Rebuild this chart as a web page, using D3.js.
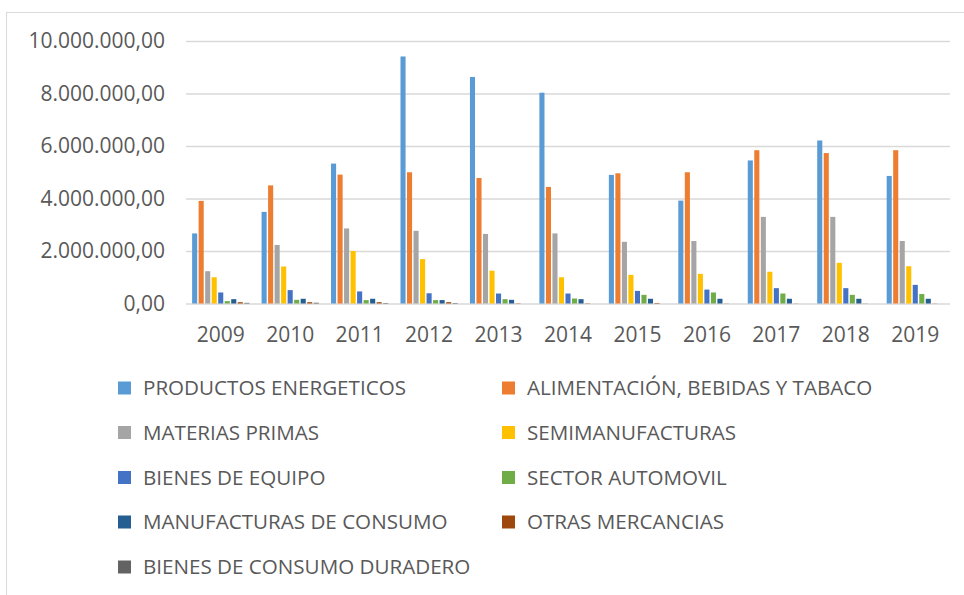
<!DOCTYPE html>
<html>
<head>
<meta charset="utf-8">
<script src="https://cdn.jsdelivr.net/npm/d3@7"></script>
<style>
  html, body { margin: 0; padding: 0; background: #fff; }
  svg { display: block; }
  text { font-family: "Open Sans", "Noto Sans", sans-serif; fill: #595959; }
</style>
</head>
<body>
<svg id="chart" width="964" height="595"></svg>
<script>
const years = ["2009","2010","2011","2012","2013","2014","2015","2016","2017","2018","2019"];
const seriesNames = [
  "PRODUCTOS ENERGETICOS",
  "ALIMENTACIÓN, BEBIDAS Y TABACO",
  "MATERIAS PRIMAS",
  "SEMIMANUFACTURAS",
  "BIENES DE EQUIPO",
  "SECTOR AUTOMOVIL",
  "MANUFACTURAS DE CONSUMO",
  "OTRAS MERCANCIAS",
  "BIENES DE CONSUMO DURADERO"
];
const seriesColors = ["#5B9BD5","#ED7D31","#A5A5A5","#FFC000","#4472C4","#70AD47","#255E91","#9E480E","#636363"];

const productosEnergeticos = [2670000,3490000,5330000,9410000,8630000,8030000,4900000,3920000,5450000,6210000,4860000];
const alimentacion        = [3910000,4500000,4910000,5000000,4780000,4440000,4960000,5000000,5840000,5730000,5840000];
const materiasPrimas      = [1230000,2230000,2860000,2770000,2650000,2670000,2350000,2380000,3300000,3300000,2380000];
const semimanufacturas    = [1000000,1410000,2000000,1690000,1250000,1000000,1090000,1130000,1210000,1550000,1420000];
const bienesEquipo        = [420000,510000,460000,390000,380000,380000,480000,530000,585000,585000,710000];
const sectorAutomovil     = [90000,140000,130000,130000,165000,190000,330000,420000,380000,330000,360000];
const manufacturasConsumo = [165000,180000,180000,130000,140000,165000,180000,180000,180000,180000,180000];
const otrasMercancias     = [50000,50000,50000,50000,10000,10000,20000,5000,5000,5000,5000];
const bienesDuradero      = [25000,30000,20000,20000,0,0,0,0,0,0,0];

const seriesValues = [productosEnergeticos, alimentacion, materiasPrimas, semimanufacturas,
  bienesEquipo, sectorAutomovil, manufacturasConsumo, otrasMercancias, bienesDuradero];

const yTicks = [0,2000000,4000000,6000000,8000000,10000000];
const yTickLabels = ["0,00","2.000.000,00","4.000.000,00","6.000.000,00","8.000.000,00","10.000.000,00"];

const svg = d3.select("#chart");

// outer chart border
svg.append("rect")
  .attr("x", 6.5).attr("y", 12.5)
  .attr("width", 1000).attr("height", 700)
  .attr("fill", "none").attr("stroke", "#D9D9D9").attr("stroke-width", 1);

const plot = { left: 186, right: 950, top: 41, bottom: 303.5 };

const y = d3.scaleLinear().domain([0, 10000000]).range([plot.bottom, plot.top]);
const x0 = d3.scaleBand().domain(years).range([plot.left, plot.right])
  .paddingInner(0.135).paddingOuter(0.0675);
const x1 = d3.scaleBand().domain(seriesNames).range([0, x0.bandwidth()]).padding(0.22);

// gridlines
const yAxis = d3.axisLeft(y).tickValues(yTicks)
  .tickSize(-(plot.right - plot.left))
  .tickFormat((d, i) => yTickLabels[i]);
const gy = svg.append("g").attr("transform", `translate(${plot.left},0)`).call(yAxis);
gy.select(".domain").remove();
gy.selectAll(".tick line").attr("stroke", "#D9D9D9").attr("stroke-width", 1.5);
gy.selectAll(".tick text")
  .attr("x", -21)
  .style("font-size", "21px")
  .style("font-family", '"Open Sans", sans-serif')
  .attr("fill", "#595959");

// bars
const groups = svg.append("g").selectAll("g")
  .data(years)
  .join("g")
  .attr("transform", d => `translate(${x0(d)},0)`);

groups.selectAll("rect")
  .data((yr, i) => seriesNames.map((s, k) => ({ s, k, v: seriesValues[k][i] })))
  .join("rect")
  .attr("x", d => x1(d.s))
  .attr("width", x1.bandwidth())
  .attr("y", d => y(d.v))
  .attr("height", d => y(0) - y(d.v))
  .attr("fill", d => seriesColors[d.k]);

// x axis labels
const xAxis = d3.axisBottom(x0).tickSize(0).tickPadding(24);
const gx = svg.append("g").attr("transform", `translate(0,${plot.bottom})`).call(xAxis);
gx.select(".domain").remove();
gx.selectAll(".tick text")
  .style("font-size", "21px")
  .style("font-family", '"Open Sans", sans-serif')
  .attr("fill", "#595959");

// legend
const legendCols = [118, 502];
const legendRows = [388, 432.5, 477.5, 522, 567];
const legend = svg.append("g").selectAll("g")
  .data(seriesNames)
  .join("g")
  .attr("transform", (d, i) => `translate(${legendCols[i % 2]},${legendRows[Math.floor(i / 2)]})`);
legend.append("rect")
  .attr("x", 0).attr("y", -6.5)
  .attr("width", 13).attr("height", 13)
  .attr("fill", (d, i) => seriesColors[i]);
legend.append("text")
  .attr("x", 25).attr("y", 0)
  .attr("dy", "0.35em")
  .style("font-size", "20.6px")
  .text(d => d);
</script>
</body>
</html>
